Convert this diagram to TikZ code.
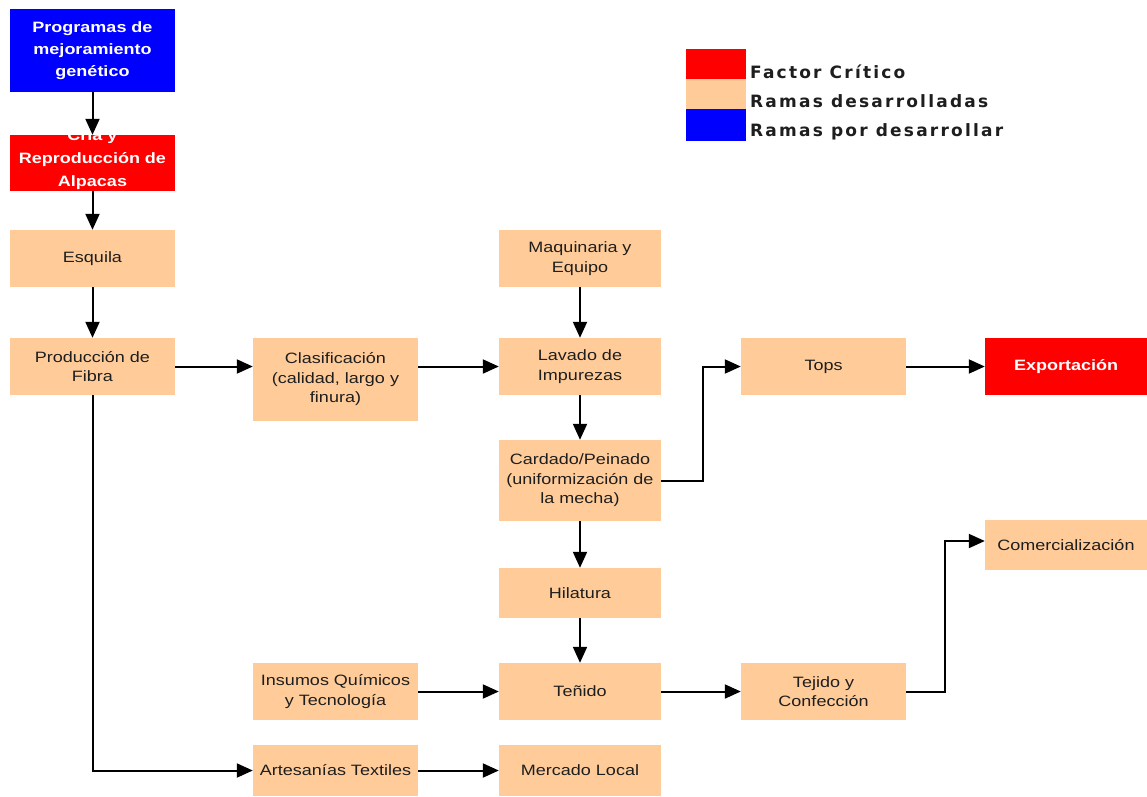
\documentclass[tikz,border=0pt]{standalone}
\usepackage{fontspec}
\setmainfont{Liberation Sans}[FakeStretch=1.2]
\newfontfamily\legfont{DejaVu Sans}[LetterSpace=13]
\usetikzlibrary{arrows.meta}
\definecolor{peach}{RGB}{255,204,153}
\definecolor{txt}{RGB}{30,30,30}
\tikzset{
  box/.style={rectangle, fill=peach, text=txt, minimum width=165pt, minimum height=57pt, inner sep=0pt, align=center, font=\fontsize{15}{19.5}\selectfont},
  bluebox/.style={box, fill=blue, text=white, font=\bfseries\fontsize{15}{22}\selectfont},
  redbox/.style={box, fill=red, text=white, font=\bfseries\fontsize{15}{22}\selectfont},
  arr/.style={line width=2pt, -{Triangle[length=16pt,width=14pt]}},
  legtxt/.style={anchor=base west, inner sep=0pt, font=\legfont\bfseries\fontsize{17}{18}\selectfont, text=txt}
}
\begin{document}
\begin{tikzpicture}[x=1pt,y=-1pt]
\useasboundingbox (0,0) rectangle (1147,796);
% legend
\fill[red] (686,49) rectangle (746,79);
\fill[peach] (686,79) rectangle (746,109);
\fill[blue] (686,109) rectangle (746,141);
\node[legtxt] (l1) at (750,78) {Factor Crítico};
\node[legtxt] (l2) at (750,107) {Ramas desarrolladas};
\node[legtxt] (l3) at (750,136) {Ramas por desarrollar};
% nodes
\node[bluebox, minimum height=83pt] (prog) at (92.5,50.5) {Programas de\\mejoramiento\\genético};
\node[redbox, minimum height=56pt, label={[white,align=center,font=\bfseries\fontsize{15}{23}\selectfont,yshift=3pt]center:Cría y\\Reproducción de\\Alpacas}] (cria) at (92.5,163) {};
\node[box] (esq) at (92.5,258.5) {Esquila};
\node[box] (prod) at (92.5,366.5) {Producción de\\Fibra};
\node[box, minimum height=83pt] (clas) at (335.5,379.5) {Clasificación\\(calidad, largo y\\finura)};
\node[box, minimum width=162pt] (maq) at (580,258.5) {Maquinaria y\\Equipo};
\node[box, minimum width=162pt] (lav) at (580,366.5) {Lavado de\\Impurezas};
\node[box, minimum width=162pt, minimum height=81pt] (card) at (580,480.5) {Cardado/Peinado\\(uniformización de\\la mecha)};
\node[box, minimum width=162pt, minimum height=50pt] (hil) at (580,593) {Hilatura};
\node[box, minimum width=162pt] (ten) at (580,691.5) {Teñido};
\node[box, minimum width=162pt, minimum height=51pt] (merc) at (580,770.5) {Mercado Local};
\node[box] (ins) at (335.5,691.5) {Insumos Químicos\\y Tecnología};
\node[box, minimum height=51pt] (art) at (335.5,770.5) {Artesanías Textiles};
\node[box] (tops) at (823.5,366.5) {Tops};
\node[redbox, minimum width=162pt] (exp) at (1066,366.5) {Exportación};
\node[box] (tej) at (823.5,691.5) {Tejido y\\Confección};
\node[box, minimum width=162pt, minimum height=50pt] (com) at (1066,545) {Comercialización};
% arrows
\draw[arr] (prod) -- (prod -| clas.west);
\draw[arr] (clas.east |- lav) -- (lav);
\draw[arr] (prog) -- (cria);
\draw[arr] (cria) -- (esq);
\draw[arr] (esq) -- (prod);
\draw[arr] (maq) -- (lav);
\draw[arr] (lav) -- (card);
\draw[arr] (card.east) -| (703,366.5) -- (tops.west);
\draw[arr] (tops) -- (exp);
\draw[arr] (card) -- (hil);
\draw[arr] (hil) -- (ten);
\draw[arr] (ins) -- (ten);
\draw[arr] (ten) -- (tej);
\draw[arr] (tej.east) -| (945,541) -- (com.west |- 0,541);
\draw[arr] (prod.south) |- (art.west);
\draw[arr] (art) -- (merc);
\end{tikzpicture}
\end{document}
